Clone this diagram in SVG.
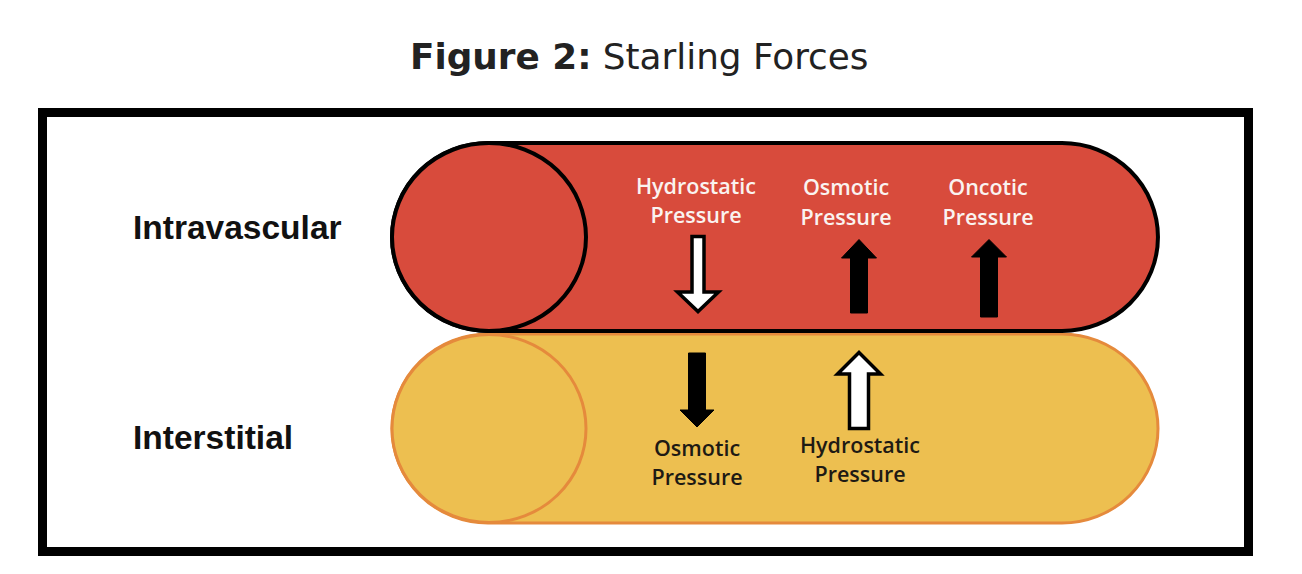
<svg xmlns="http://www.w3.org/2000/svg" width="1302" height="574" viewBox="0 0 1302 574">
  <style>
    .title { font-family: "DejaVu Sans", Verdana, sans-serif; font-size: 35.8px; fill: #222222; }
    .side { font-family: "Liberation Sans", Arial, sans-serif; font-weight: bold; font-size: 33.5px; fill: #111111; }
    .lbl { font-family: "Open Sans", "Liberation Sans", sans-serif; font-size: 21.5px; font-weight: 600; text-anchor: middle; }
    .lblw { fill: #FAF3F0; }
    .lbld { fill: #1E1A14; }
    .red { fill: #D84B3C; stroke: #000000; stroke-width: 4; }
    .yel { fill: #EDBF50; stroke: #E58A3C; stroke-width: 3; }
    .solid { fill: #000000; stroke: #000000; stroke-width: 1; stroke-linejoin: miter; }
    .hollow { fill: #FFFFFF; stroke: #000000; stroke-width: 3.5; stroke-linejoin: miter; }
  </style>

  <rect width="1302" height="574" fill="#FFFFFF"/>

  <text class="title" x="410" y="69"><tspan font-weight="bold">Figure 2:</tspan> Starling Forces</text>

  <rect id="frame" x="42.5" y="112.5" width="1206" height="439" fill="none" stroke="#000000" stroke-width="9"/>

  <g id="interstitial">
    <path class="yel" d="M488,334 H1062 A96,94.5 0 0 1 1062,523 H488 A96,94.5 0 0 1 488,334 Z"/>
    <ellipse class="yel" cx="489" cy="428.5" rx="97" ry="94"/>
  </g>

  <g id="intravascular">
    <path class="red" d="M488,143 H1062 A96,94 0 0 1 1062,331 H488 A96,94 0 0 1 488,143 Z"/>
    <ellipse class="red" cx="489" cy="237" rx="97" ry="94"/>
  </g>

  <g id="label-intravascular">
    <text class="side" x="133" y="239">Intravascular</text>
  </g>
  <g id="label-interstitial">
    <text class="side" x="133" y="449">Interstitial</text>
  </g>

  <g id="iv-hydrostatic">
    <text class="lbl lblw" x="696" y="194">Hydrostatic</text>
    <text class="lbl lblw" x="696" y="223">Pressure</text>
  </g>
  <g id="iv-osmotic">
    <text class="lbl lblw" x="846" y="195">Osmotic</text>
    <text class="lbl lblw" x="846" y="225">Pressure</text>
  </g>
  <g id="iv-oncotic">
    <text class="lbl lblw" x="988" y="195">Oncotic</text>
    <text class="lbl lblw" x="988" y="225">Pressure</text>
  </g>
  <g id="is-osmotic">
    <text class="lbl lbld" x="697" y="456">Osmotic</text>
    <text class="lbl lbld" x="697" y="485">Pressure</text>
  </g>
  <g id="is-hydrostatic">
    <text class="lbl lbld" x="860" y="453">Hydrostatic</text>
    <text class="lbl lbld" x="860" y="482">Pressure</text>
  </g>

  <g id="connectors">
    <!-- intravascular hydrostatic: hollow down -->
    <polygon class="hollow" points="692,236.5 704,236.5 704,292 718.5,292 698,311.5 677.5,292 692,292"/>
    <!-- intravascular osmotic: solid up -->
    <polygon class="solid" points="859,239.5 876.5,258 867.5,258 867.5,313 850.5,313 850.5,258 841.5,258"/>
    <!-- intravascular oncotic: solid up -->
    <polygon class="solid" points="989,239.5 1006.5,257 997.5,257 997.5,317 980.5,317 980.5,257 971.5,257"/>
    <!-- interstitial osmotic: solid down -->
    <polygon class="solid" points="688.5,353 705.5,353 705.5,410 714,410 697,427 680,410 688.5,410"/>
    <!-- interstitial hydrostatic: hollow up -->
    <polygon class="hollow" points="859,352.5 880.5,374 868.5,374 868.5,428.5 849.5,428.5 849.5,374 837.5,374"/>
  </g>
</svg>
